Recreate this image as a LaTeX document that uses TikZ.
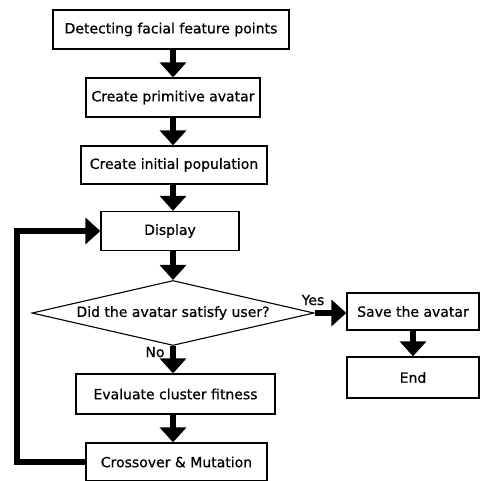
\documentclass[tikz,border=0pt]{standalone}
\usepackage{fontspec}
\setmainfont[FakeBold=0.6]{DejaVu Sans}
\usetikzlibrary{arrows.meta,shapes.geometric}
\begin{document}
\begin{tikzpicture}[x=1pt,y=-1pt,
  box/.style={draw,line width=1.3pt,inner sep=0pt,font=\fontsize{14}{16}\selectfont},
  flow/.style={line width=6pt,-{Triangle[width=26pt,length=15pt]}},
  loopline/.style={line width=5.5pt},
  lbl/.style={font=\fontsize{14}{16}\selectfont}]
\useasboundingbox (0,0) rectangle (481,480);
\node[box,minimum width=236pt,minimum height=39pt] (b1) at (171,29.5) {Detecting facial feature points};
\node[box,minimum width=174pt,minimum height=39pt] (b2) at (173,97.5) {Create primitive avatar};
\node[box,minimum width=186pt,minimum height=38pt] (b3) at (174,165) {Create initial population};
\node[box,minimum width=138pt,minimum height=39pt] (disp) at (170,231) {Display};
\node[draw,line width=1.1pt,diamond,aspect=4.34,minimum width=282pt,minimum height=65pt,inner sep=0pt,
  label={[lbl]center:Did the avatar satisfy user?}] (dia) at (173,313) {};
\node[box,minimum width=132pt,minimum height=37pt] (save) at (413,311.5) {Save the avatar};
\node[box,minimum width=132pt,minimum height=41pt] (end) at (413,377.5) {End};
\node[box,minimum width=199pt,minimum height=40pt] (eval) at (175.5,394) {Evaluate cluster fitness};
\node[box,minimum width=181pt,minimum height=38pt] (cross) at (176.5,462) {Crossover \& Mutation};
\node[lbl] (yes) at (313,300) {Yes};
\node[lbl] (no) at (155,352) {No};
\coordinate (lc) at (17,462);
\draw[flow] (b1.south -| dia.north) -- (b2.north -| dia.north);
\draw[flow] (b2.south -| dia.north) -- (b3.north -| dia.north);
\draw[flow] (b3.south -| dia.north) -- (disp.north -| dia.north);
\draw[flow] (disp.south -| dia.north) -- (dia.north);
\draw[flow] (dia.east) -- (dia.east -| save.west);
\draw[flow] (save.south) -- (end.north);
\draw[flow] (dia.south) -- (eval.north -| dia.south);
\draw[flow] (eval.south -| dia.south) -- (cross.north -| dia.south);
\draw[loopline] (cross.west) -- (lc) |- ([xshift=-16pt]disp.west);
\draw[flow] ([xshift=-18pt]disp.west) -- (disp.west);
\end{tikzpicture}
\end{document}
